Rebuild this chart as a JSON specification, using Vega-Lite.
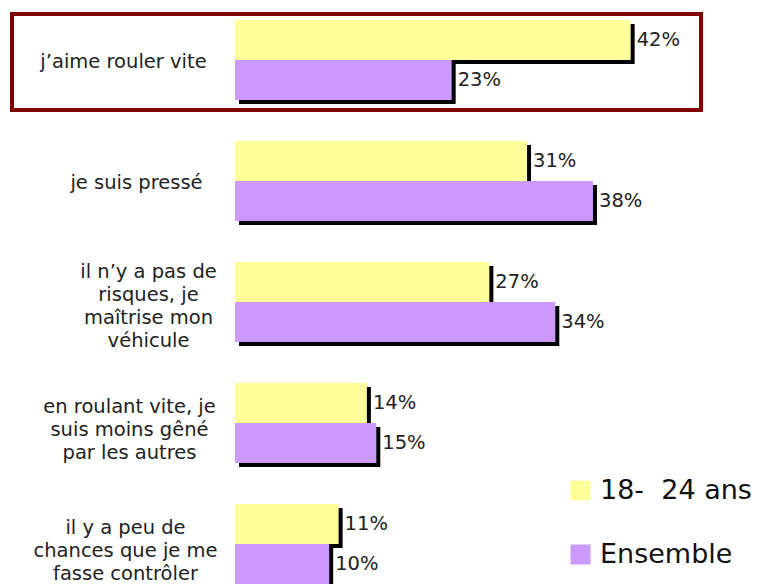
{
  "$schema": "https://vega.github.io/schema/vega-lite/v6.json",
  "width": 525,
  "height": 584,
  "autosize": {"type": "none"},
  "padding": {"left": 235, "top": 0, "right": 0, "bottom": 0},
  "background": "white",
  "config": {"view": {"stroke": null}, "font": "DejaVu Sans"},
  "data": {
    "values": [
      {"category": "j’aime rouler vite", "series": "18- 24 ans", "value": 0.42},
      {"category": "j’aime rouler vite", "series": "Ensemble", "value": 0.23},
      {"category": "je suis pressé", "series": "18- 24 ans", "value": 0.31},
      {"category": "je suis pressé", "series": "Ensemble", "value": 0.38},
      {"category": "il n’y a pas de|risques, je|maîtrise mon|véhicule", "series": "18- 24 ans", "value": 0.27},
      {"category": "il n’y a pas de|risques, je|maîtrise mon|véhicule", "series": "Ensemble", "value": 0.34},
      {"category": "en roulant vite, je|suis moins gêné|par les autres", "series": "18- 24 ans", "value": 0.14},
      {"category": "en roulant vite, je|suis moins gêné|par les autres", "series": "Ensemble", "value": 0.15},
      {"category": "il y a peu de|chances que je me|fasse contrôler", "series": "18- 24 ans", "value": 0.11},
      {"category": "il y a peu de|chances que je me|fasse contrôler", "series": "Ensemble", "value": 0.10}
    ]
  },
  "encoding": {
    "y": {
      "field": "category",
      "type": "nominal",
      "sort": null,
      "scale": {"paddingInner": 0.3388, "paddingOuter": 0.0826, "align": 1},
      "axis": {
        "title": null,
        "domain": false,
        "ticks": false,
        "tickSize": 0,
        "labelAlign": "center",
        "labelBaseline": "middle",
        "labelFontSize": 19.5,
        "labelLineHeight": 23,
        "labelColor": "#222222",
        "labelLimit": 300,
        "labelOverlap": false,
        "labelExpr": "split(datum.label, '|')",
        "labelOffset": {
          "condition": [
            {"test": "length(split(datum.value, '|')) == 4", "value": -30},
            {"test": "length(split(datum.value, '|')) == 3", "value": -16}
          ],
          "value": 2
        },
        "labelPadding": {
          "condition": [
            {"test": "datum.value == 'j’aime rouler vite'", "value": 112},
            {"test": "datum.value == 'je suis pressé'", "value": 99},
            {"test": "length(split(datum.value, '|')) == 4", "value": 87},
            {"test": "indexof(datum.value, 'en roulant') == 0", "value": 106}
          ],
          "value": 110
        }
      }
    }
  },
  "resolve": {"scale": {"yOffset": "independent"}},
  "layer": [
    {
      "mark": {"type": "bar", "color": "black", "xOffset": 4, "x2Offset": 4},
      "encoding": {
        "x": {"field": "value", "type": "quantitative", "scale": {"domain": [0, 0.5573], "nice": false, "zero": true}, "axis": null},
        "yOffset": {"field": "series", "type": "nominal", "sort": ["18- 24 ans", "Ensemble"], "scale": {"range": [4, 84]}}
      }
    },
    {
      "mark": {"type": "bar"},
      "encoding": {
        "x": {"field": "value", "type": "quantitative"},
        "yOffset": {"field": "series", "type": "nominal", "sort": ["18- 24 ans", "Ensemble"]},
        "color": {
          "field": "series",
          "type": "nominal",
          "scale": {"domain": ["18- 24 ans", "Ensemble"], "range": ["#FFFF99", "#CC99FF"]},
          "legend": {
            "orient": "none",
            "legendX": 332,
            "legendY": 477,
            "title": null,
            "padding": 0,
            "symbolType": "square",
            "symbolSize": 400,
            "symbolStrokeWidth": 0,
            "labelFontSize": 27,
            "labelOffset": 6,
            "labelColor": "#111111",
            "rowPadding": 36,
            "labelLimit": 300,
            "labelExpr": "replace(datum.label, '- ', '-\u00a0 ')"
          }
        }
      }
    },
    {
      "mark": {"type": "text", "align": "left", "baseline": "middle", "dx": 6, "fontSize": 19.5, "color": "#222222"},
      "encoding": {
        "x": {"field": "value", "type": "quantitative"},
        "yOffset": {"field": "series", "type": "nominal", "sort": ["18- 24 ans", "Ensemble"]},
        "text": {"field": "value", "type": "quantitative", "format": ".0%"}
      }
    },
    {
      "transform": [{"filter": "datum.category == 'j’aime rouler vite' && datum.series == 'Ensemble'"}],
      "mark": {"type": "bar", "size": 96, "yOffset": 2, "filled": false, "stroke": "#800000", "strokeWidth": 4},
      "encoding": {
        "x": {"datum": -0.2367, "type": "quantitative"},
        "x2": {"datum": 0.4947}
      }
    }
  ]
}
